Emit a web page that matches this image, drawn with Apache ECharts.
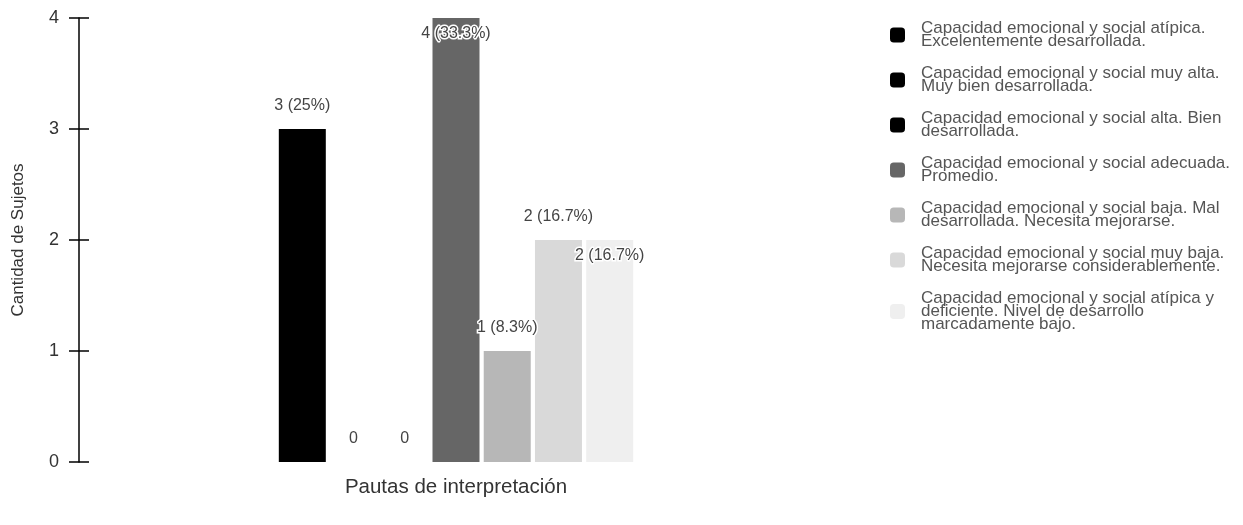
<!DOCTYPE html>
<html>
<head>
<meta charset="utf-8">
<script src="https://cdn.jsdelivr.net/npm/echarts@6/dist/echarts.min.js"></script>
<style>
  html, body { margin: 0; padding: 0; background: #ffffff; }
  #chart { width: 1243px; height: 525px; }
</style>
</head>
<body>
<div id="chart"></div>
<script>
// Interpretation levels (one bar each) and the number of subjects in each
const levelNames = [
  'Capacidad emocional y social atípica.\nExcelentemente desarrollada.',
  'Capacidad emocional y social muy alta.\nMuy bien desarrollada.',
  'Capacidad emocional y social alta. Bien\ndesarrollada.',
  'Capacidad emocional y social adecuada.\nPromedio.',
  'Capacidad emocional y social baja. Mal\ndesarrollada. Necesita mejorarse.',
  'Capacidad emocional y social muy baja.\nNecesita mejorarse considerablemente.',
  'Capacidad emocional y social atípica y\ndeficiente. Nivel de desarrollo\nmarcadamente bajo.'
];
const subjectCounts = [3, 0, 0, 4, 1, 2, 2];
const levelColors = ['#000000', '#000000', '#000000', '#666666', '#b7b7b7', '#d9d9d9', '#efefef'];
const categories = [''];
const yTicks = [0, 1, 2, 3, 4];

const FONT = '"Liberation Sans", Arial, sans-serif';
const total = subjectCounts.reduce((a, b) => a + b, 0);

function countLabel(v) {
  if (v === 0) return '0';
  const pct = Math.round(v / total * 1000) / 10;
  return v + ' (' + pct + '%)';
}

// Labels that would run past the top or collide sit inside the bar top
const insideTopLabels = [false, false, false, true, false, false, true];

const series = levelNames.map((name, i) => ({
  name: name,
  type: 'bar',
  data: [subjectCounts[i]],
  barWidth: 47,
  barGap: '9%',
  itemStyle: { color: levelColors[i] },
  label: {
    show: true,
    position: insideTopLabels[i] ? 'insideTop' : 'top',
    distance: insideTopLabels[i] ? 8 : 15,
    formatter: p => countLabel(p.value),
    fontFamily: FONT,
    fontSize: 16,
    color: '#444444',
    textBorderColor: '#ffffff',
    textBorderWidth: 3
  }
}));

const chart = echarts.init(document.getElementById('chart'), null, { renderer: 'canvas' });
chart.setOption({
  animation: false,
  backgroundColor: '#ffffff',
  grid: { left: 79, right: 410, top: 18, bottom: 63, containLabel: false },
  legend: {
    orient: 'vertical',
    left: 885,
    top: 15,
    itemWidth: 15,
    itemHeight: 15,
    itemGap: 15,
    icon: 'roundRect',
    selectedMode: false,
    textStyle: {
      fontFamily: FONT,
      fontSize: 17,
      lineHeight: 13,
      color: '#555555',
      padding: [0, 0, 0, 11]
    },
    data: levelNames
  },
  xAxis: {
    type: 'category',
    data: categories,
    name: 'Pautas de interpretación',
    nameLocation: 'middle',
    nameGap: 15,
    nameTextStyle: { fontFamily: FONT, fontSize: 20.5, color: '#333333' },
    axisLine: { show: false },
    axisTick: { show: false },
    axisLabel: { show: false }
  },
  yAxis: [{
    type: 'value',
    min: yTicks[0],
    max: yTicks[yTicks.length - 1],
    interval: 1,
    name: 'Cantidad de Sujetos',
    nameLocation: 'middle',
    nameGap: 52,
    nameTextStyle: { fontFamily: FONT, fontSize: 17, color: '#333333' },
    axisLine: { show: true, lineStyle: { color: '#000000', width: 1.5 } },
    axisTick: { show: true, inside: false, length: 10, lineStyle: { color: '#000000', width: 1.5 } },
    axisLabel: { fontFamily: FONT, fontSize: 18, color: '#333333', margin: 20 },
    splitLine: { show: false }
  }, {
    // mirror ticks on the inner side so each tick crosses the axis line
    type: 'value',
    position: 'left',
    min: yTicks[0],
    max: yTicks[yTicks.length - 1],
    interval: 1,
    axisLine: { show: false },
    axisTick: { show: true, inside: true, length: 10, lineStyle: { color: '#000000', width: 1.5 } },
    axisLabel: { show: false },
    splitLine: { show: false }
  }],
  series: series
});
</script>
</body>
</html>
